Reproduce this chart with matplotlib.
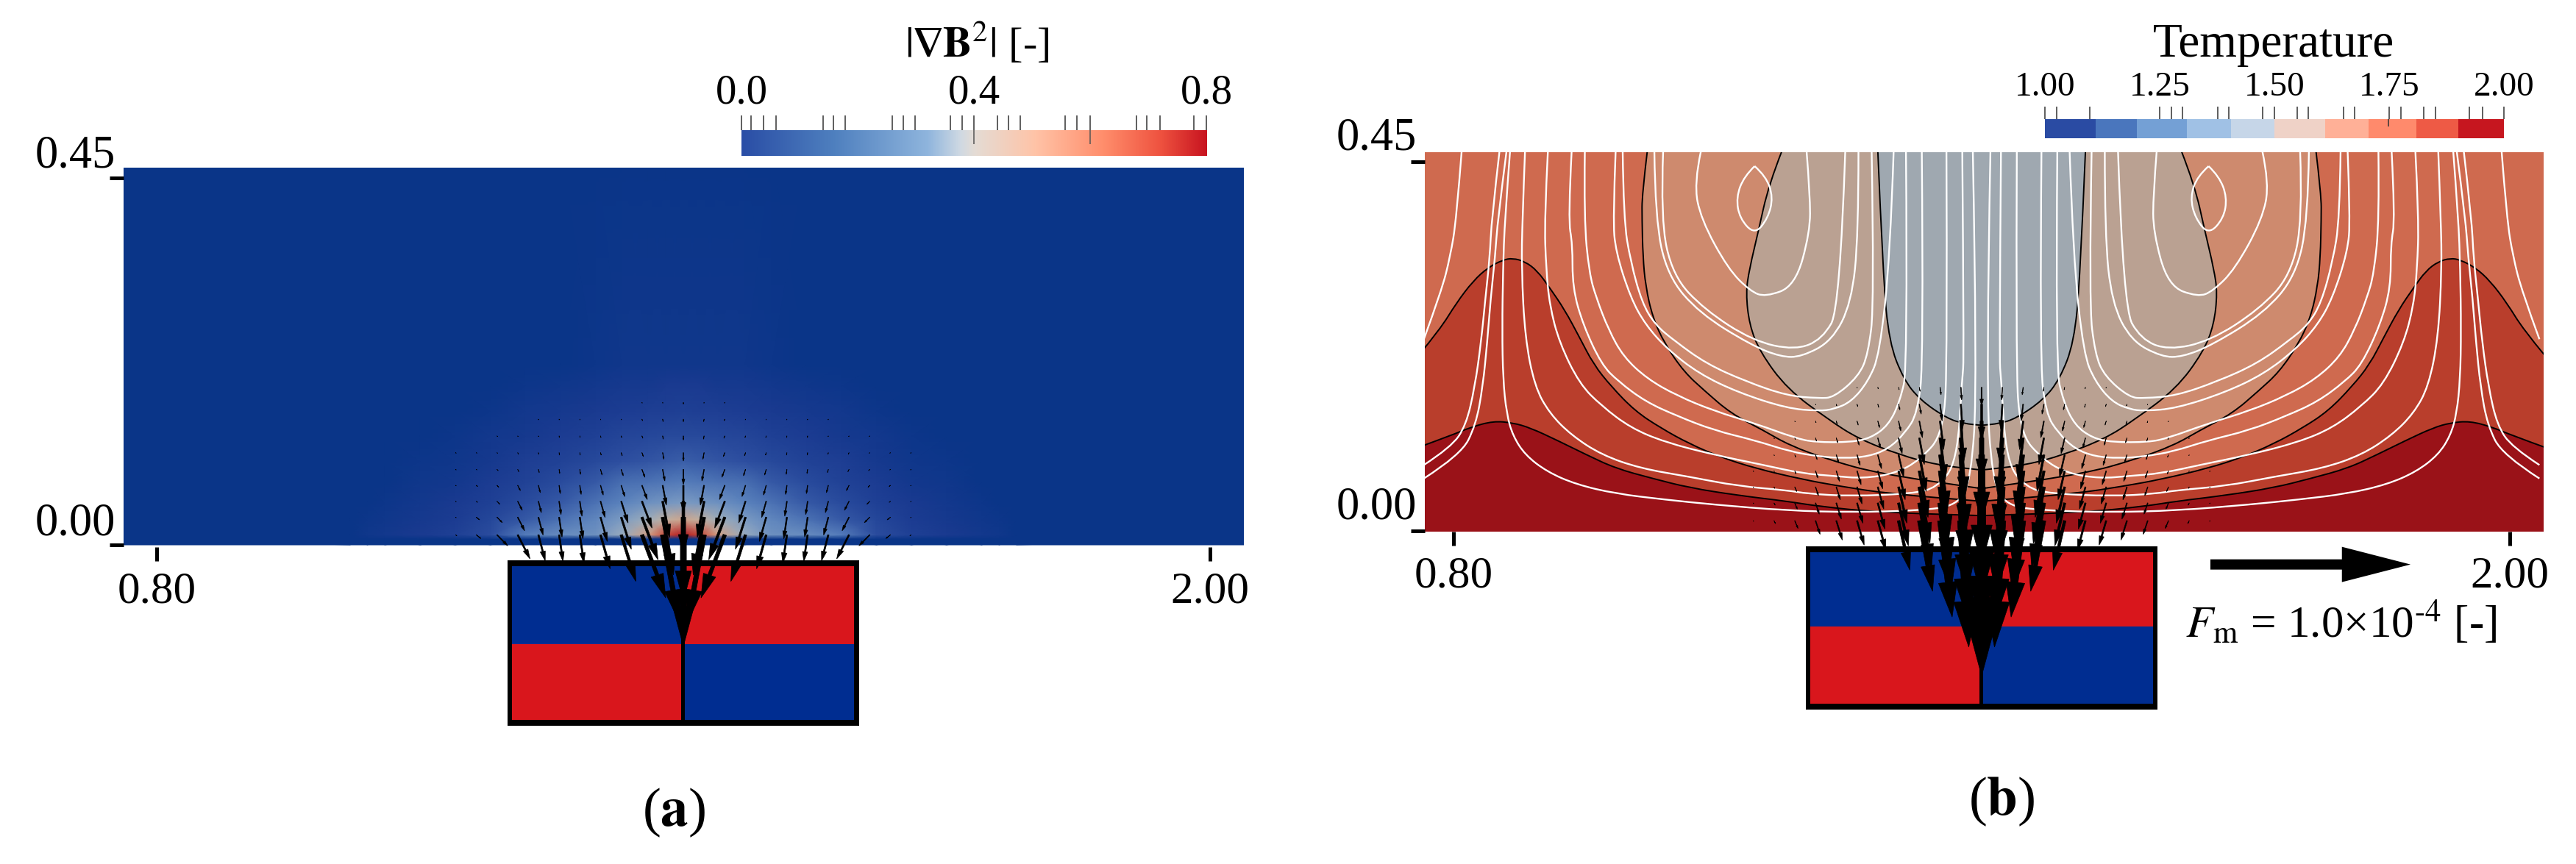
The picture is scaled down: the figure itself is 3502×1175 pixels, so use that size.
import matplotlib

matplotlib.use("Agg")
import matplotlib.pyplot as plt
import numpy as np
from matplotlib.colors import LinearSegmentedColormap
from matplotlib.patches import PathPatch, Rectangle
from matplotlib.path import Path
from matplotlib.transforms import ScaledTranslation

W, H, DPI = 3502, 1175, 100
CENTER = 1.40

# panel (a): |grad B^2|, half domain (dx from centre)
FIELD_DX = [0, 0.02, 0.04, 0.07, 0.10, 0.14, 0.18, 0.22, 0.26, 0.30, 0.34, 0.36, 0.38, 0.66]
FIELD_Y = [0, 0.007, 0.012, 0.03, 0.05, 0.075, 0.10, 0.13, 0.16, 0.19, 0.215, 0.47]
FIELD_VALUES = [
    [0, 0, 0, 0, 0, 0, 0, 0, 0, 0, 0, 0, 0, 0],
    [0, 0, 0, 0, 0, 0, 0, 0, 0, 0, 0, 0, 0, 0],
    [.80, .70, .52, .35, .28, .27, .24, .14, .08, .05, .03, .02, 0, 0],
    [.50, .45, .36, .30, .26, .22, .17, .11, .06, .04, .02, .01, 0, 0],
    [.30, .29, .28, .25, .22, .17, .13, .08, .05, .03, .01, 0, 0, 0],
    [.24, .23, .22, .21, .17, .13, .09, .06, .03, .02, 0, 0, 0, 0],
    [.18, .17, .16, .15, .12, .09, .07, .04, .02, .01, 0, 0, 0, 0],
    [.12, .12, .11, .10, .08, .06, .04, .03, .01, 0, 0, 0, 0, 0],
    [.08, .07, .07, .06, .05, .04, .03, .01, 0, 0, 0, 0, 0, 0],
    [.05, .05, .04, .04, .03, .02, .01, 0, 0, 0, 0, 0, 0, 0],
    [.02, .02, .02, .02, .01, 0, 0, 0, 0, 0, 0, 0, 0, 0],
    [0, 0, 0, 0, 0, 0, 0, 0, 0, 0, 0, 0, 0, 0],
]
FIELD_STOPS = [0, .05, .15, .25, .32, .42, .55, .70, .80]
FIELD_COLORS = ["#0a3588", "#1a3a90", "#2d4fa0", "#5a82bd", "#8ba6c5",
                "#b9b6ab", "#d99a7a", "#c84a3a", "#b01c22"]

# arrow glyphs, both panels: tail rows, columns from centre, lengths x 1000
ARROW_Y = [.012, .033, .052, .071, .090, .110, .130, .150, .170]
ARROW_DX = [0, .0236, .0472, .0708, .0944, .118, .1416, .1652, .1888, .2124, .236, .2596]
ARROW_TILT_A = [0, .18, .36, .30, .27, .14, .14, .25, .49, .94, 1.2, 1.2]
ARROW_TILT_B = [0, .06, .12, .18, .22, .26, .28, .30, .32, .40, .50, .60]
ARROW_LEN_A = [
    [133, 105, 80, 58, 42, 34, 32, 32, 32, 18, 7, 2],
    [100, 70, 54, 40, 30, 26, 24, 22, 18, 9, 5, 1],
    [62, 44, 34, 27, 20, 18, 16, 14, 12, 5, 2, 1],
    [32, 24, 18, 14, 12, 11, 10, 9, 7, 3, 2, 1],
    [18, 14, 10, 8, 7, 6, 5, 4, 3, 2, 1, 1],
    [10, 8, 5, 4, 3, 3, 3, 2, 2, 1, 1, 1],
    [5, 4, 3, 2, 2, 2, 2, 1, 1, 1, 0, 0],
    [3, 3, 2, 1, 1, 1, 1, 1, 0, 0, 0, 0],
    [2, 1, 1, 0, 0, 0, 0, 0, 0, 0, 0, 0],
]
ARROW_LEN_B = [
    [184, 150, 115, 85, 60, 36, 30, 24, 17, 10, 4, 1],
    [175, 140, 105, 78, 52, 32, 25, 20, 14, 8, 3, 1],
    [165, 125, 95, 68, 44, 27, 21, 16, 11, 6, 2, 1],
    [150, 110, 82, 56, 35, 22, 17, 13, 9, 4, 1, 1],
    [130, 92, 68, 44, 27, 17, 13, 10, 6, 3, 1, 0],
    [100, 72, 50, 32, 19, 12, 9, 6, 4, 2, 1, 0],
    [70, 50, 34, 20, 12, 8, 5, 4, 2, 1, 0, 0],
    [42, 30, 20, 12, 7, 4, 3, 2, 1, 0, 0, 0],
    [22, 15, 9, 5, 3, 2, 1, 0, 0, 0, 0, 0],
]

# panel (b): left half of the temperature band edges, (dx, y)
BAND_A = [(-.64, .099), (-.603, .113), (-.580, .123), (-.555, .130), (-.533, .128), (-.513, .122),
          (-.482, .107), (-.449, .090), (-.416, .074), (-.374, .062), (-.332, .051), (-.277, .042),
          (-.221, .035), (-.185, .029), (-.118, .022), (0, .018)]
BAND_B = [(-.64, .208), (-.616, .238), (-.597, .270), (-.578, .296), (-.561, .312), (-.544, .321),
          (-.533, .323), (-.519, .319), (-.505, .308), (-.491, .288), (-.474, .262), (-.457, .229),
          (-.441, .197), (-.421, .171), (-.394, .142), (-.365, .122), (-.332, .103), (-.296, .087),
          (-.257, .074), (-.204, .061), (-.162, .053), (-.106, .044), (0, .035)]
BAND_C = [(-.380, .45), (-.386, .398), (-.386, .369), (-.385, .325), (-.382, .290), (-.374, .253),
          (-.360, .221), (-.338, .188), (-.315, .166), (-.285, .139), (-.248, .119), (-.218, .101),
          (-.173, .084), (-.118, .068), (0, .050)]
BAND_D = [(-.227, .45), (-.242, .410), (-.254, .354), (-.264, .310), (-.268, .282), (-.264, .244),
          (-.252, .212), (-.221, .168), (-.173, .131), (-.140, .109), (-.093, .090), (-.051, .078), (0, .072)]
BAND_E = [(-.118, .45), (-.112, .30), (-.105, .223), (-.089, .180), (-.070, .155), (-.039, .133),
          (-.020, .127), (0, .125)]
BANDS = [BAND_A, BAND_B, BAND_C, BAND_D, BAND_E]
BAND_COLORS = ["#b93e2c", "#cf6a4f", "#ce8a6e", "#baa192", "#9fa8b0"]
BAND_BASE = "#9a1218"

# white streamlines, left half
STREAM_1 = [(-.591, .45), (-.597, .369), (-.604, .325), (-.614, .284), (-.634, .227)]
STREAM_2 = [(-.548, .45), (-.557, .369), (-.559, .325), (-.564, .276), (-.569, .223), (-.576, .171),
            (-.586, .125), (-.603, .099), (-.634, .078)]
STREAM_3 = [(-.540, .45), (-.550, .369), (-.553, .325), (-.558, .276), (-.562, .223), (-.567, .171),
            (-.575, .125), (-.592, .090), (-.634, .062)]
STREAM_4 = [(-.536, .45), (-.542, .369), (-.544, .310), (-.545, .238), (-.544, .180), (-.540, .139),
            (-.533, .113), (-.519, .090), (-.494, .070), (-.461, .055), (-.416, .044), (-.360, .037),
            (-.304, .031), (-.221, .024), (-.148, .022), (-.070, .024), (-.028, .030), (-.012, .059),
            (-.005, .177), (-.010, .45)]
STREAM_5 = [(-.519, .45), (-.522, .369), (-.523, .310), (-.519, .229), (-.508, .171), (-.491, .139),
            (-.466, .113), (-.432, .090), (-.388, .074), (-.332, .064), (-.277, .053), (-.221, .048),
            (-.198, .044), (-.148, .041), (-.079, .044), (-.051, .051), (-.028, .081), (-.022, .183),
            (-.020, .203), (-.022, .45)]
STREAM_6 = [(-.493, .45), (-.497, .369), (-.495, .310), (-.491, .267), (-.480, .223), (-.457, .174),
            (-.432, .148), (-.399, .122), (-.360, .105), (-.304, .090), (-.248, .078), (-.204, .068),
            (-.168, .065), (-.135, .062), (-.098, .068), (-.070, .084), (-.043, .116), (-.039, .212),
            (-.040, .45)]
STREAM_7 = [(-.466, .45), (-.470, .369), (-.465, .340), (-.465, .288), (-.453, .244), (-.432, .197),
            (-.413, .177), (-.382, .153), (-.346, .136), (-.304, .119), (-.257, .107), (-.218, .094),
            (-.185, .088), (-.156, .086), (-.129, .088), (-.106, .097), (-.087, .116), (-.073, .139),
            (-.066, .203), (-.068, .45)]
STREAM_8 = [(-.451, .45), (-.452, .369), (-.446, .305), (-.438, .276), (-.424, .238), (-.407, .206),
            (-.380, .180), (-.346, .160), (-.304, .142), (-.257, .127), (-.212, .110), (-.190, .105),
            (-.148, .105), (-.126, .110), (-.106, .125), (-.093, .153), (-.084, .194), (-.086, .45)]
STREAM_9 = [(-.416, .45), (-.419, .369), (-.416, .331), (-.399, .276), (-.382, .244), (-.357, .215),
            (-.321, .186), (-.277, .164), (-.221, .145), (-.185, .142), (-.168, .144), (-.148, .153),
            (-.129, .177), (-.116, .209), (-.104, .325), (-.100, .45)]
STREAM_10 = [(-.408, .45), (-.407, .369), (-.399, .319), (-.386, .270), (-.371, .244), (-.349, .225),
             (-.313, .198), (-.268, .177), (-.221, .160), (-.185, .157), (-.168, .158), (-.140, .183),
             (-.129, .209), (-.122, .27), (-.125, .45)]
STREAM_11 = [(-.372, .45), (-.371, .369), (-.357, .302), (-.321, .258), (-.262, .220), (-.228, .206),
             (-.205, .206), (-.170, .225), (-.148, .27), (-.140, .35), (-.14, .45)]
STREAM_12 = [(-.362, .45), (-.365, .369), (-.351, .302), (-.315, .262), (-.260, .225), (-.212, .214),
             (-.181, .227), (-.161, .264), (-.155, .45)]
STREAM_13 = [(-.319, .45), (-.327, .412), (-.319, .369), (-.288, .310), (-.263, .284), (-.246, .277),
             (-.212, .290), (-.195, .354), (-.195, .398), (-.199, .45)]
STREAM_14 = [(-.258, .432), (-.270, .42), (-.279, .395), (-.275, .37), (-.258, .351), (-.243, .37),
             (-.237, .395), (-.245, .42), (-.258, .432)]
STREAMS = [STREAM_1, STREAM_2, STREAM_3, STREAM_4, STREAM_5, STREAM_6, STREAM_7, STREAM_8,
           STREAM_9, STREAM_10, STREAM_11, STREAM_12, STREAM_13, STREAM_14]

# colour bars
CBAR_A_STOPS = [0, .2, .4, .47, .5, .63, .78, .9, 1]
CBAR_A_COLORS = ["#2a4ea6", "#4f80bf", "#8fb5dd", "#cfd9e3", "#e4dcd5", "#ffc4a8", "#ff8d6b", "#ef5340", "#c81420"]
CBAR_A_MAJOR = [0.0, 0.4, 0.8]
CBAR_A_MINOR = [.017, .038, .059, .14, .158, .179, .26, .278, .299, .36, .38, .44, .459, .48,
                .557, .577, .6, .68, .698, .72, .779]
CBAR_B_EDGES = [1, 1.11, 1.20, 1.31, 1.405, 1.5, 1.61, 1.705, 1.81, 1.90, 2.0]
CBAR_B_COLORS = ["#2a4ba3", "#4a76bd", "#74a0d5", "#a0c1e5", "#c6d6e8",
                 "#efd2c7", "#ffb097", "#ff8a6c", "#ee5a45", "#c6161f"]
CBAR_B_MAJOR = [1.0, 1.25, 1.5, 1.75, 2.0]
CBAR_B_MINOR = [1.025, 1.098, 1.275, 1.3, 1.376, 1.4, 1.474, 1.549, 1.574, 1.65, 1.675,
                1.776, 1.825, 1.851, 1.925, 1.953]

MAGNET_BLUE = "#002d91"
MAGNET_RED = "#d9161c"


def px_axes(fig, left, top, right, bottom):
    return fig.add_axes([left / W, 1 - bottom / H, (right - left) / W, (bottom - top) / H])


def px_text(fig, x, y, s, **kwargs):
    return fig.text(x / W, 1 - y / H, s, va="baseline", ha="center", **kwargs)


def mirrored(points, stretch):
    pts = np.array(points)
    x = np.r_[CENTER + pts[:, 0], CENTER - pts[::-1, 0]]
    y = np.r_[pts[:, 1], pts[::-1, 1]] * stretch
    return x, y


def smooth_path(x, y, closed_top=False):
    # quadratic segments through the read points, so the curves do not look polygonal
    pts = np.column_stack([x, y])
    verts = [pts[0]]
    codes = [Path.MOVETO]
    for i in range(1, len(pts) - 1):
        end = pts[i + 1] if i == len(pts) - 2 else (pts[i] + pts[i + 1]) / 2
        verts += [pts[i], end]
        codes += [Path.CURVE3, Path.CURVE3]
    if closed_top:
        verts += [(x[-1], 1), (x[0], 1), pts[0]]
        codes += [Path.LINETO, Path.LINETO, Path.CLOSEPOLY]
    return Path(verts, codes)


def style_field_axes(fig, ax, up):
    for spine in ax.spines.values():
        spine.set_visible(False)
    ax.set_xticks([0.8, 2.0], ["0.80", "2.00"], fontsize=44)
    ax.set_yticks([0.0, 0.45], ["0.00", "0.45"], fontsize=45)
    ax.tick_params(axis="both", length=13.7, width=3.6)
    ax.tick_params(axis="x", pad=10)
    ax.tick_params(axis="y", pad=-6)
    shift = ScaledTranslation(0, up / DPI, fig.dpi_scale_trans)
    for label in ax.get_yticklabels():
        label.set_va("bottom")
        label.set_transform(label.get_transform() + shift)


def draw_magnet(ax, top, mid, bottom):
    ax.add_patch(Rectangle((1.2, bottom), 0.4, top - bottom, fc="black", ec="none", clip_on=False, zorder=5))
    quarters = [(1.205, mid, 0.1925, top - mid - 0.007, MAGNET_BLUE),
                (1.402, mid, 0.1925, top - mid - 0.007, MAGNET_RED),
                (1.205, bottom + 0.007, 0.1925, mid - bottom - 0.007, MAGNET_RED),
                (1.402, bottom + 0.007, 0.1925, mid - bottom - 0.007, MAGNET_BLUE)]
    for x0, y0, w, h, color in quarters:
        ax.add_patch(Rectangle((x0, y0), w, h, fc=color, ec="none", clip_on=False, zorder=6))


def draw_arrow(ax, x, y, dx, dy):
    length = np.hypot(dx, dy)
    ax.arrow(x, y, dx, dy, width=0.05 * length, head_width=0.18 * length, head_length=0.36 * length,
             length_includes_head=True, fc="black", ec="black", lw=0.5, clip_on=False, zorder=8)


def draw_arrows(ax, lengths, tilts, stretch):
    for y, row in zip(ARROW_Y, lengths):
        for col, (offset, value, tilt) in enumerate(zip(ARROW_DX, row, tilts)):
            if value == 0:
                continue
            length = value / 1000
            norm = np.hypot(tilt, 1)
            dx, dy = length * tilt / norm, -length / norm
            draw_arrow(ax, CENTER - offset, y * stretch, dx, dy * stretch)
            if col > 0:
                draw_arrow(ax, CENTER + offset, y * stretch, -dx, dy * stretch)


def main():
    plt.rcParams["font.family"] = ["Liberation Serif", "DejaVu Serif"]
    plt.rcParams["mathtext.fontset"] = "stix"
    fig = plt.figure(figsize=(W / DPI, H / DPI), dpi=DPI)

    # panel (a)
    stretch_a = 1140 / 1109
    ax = px_axes(fig, 168, 228, 1691, 744)
    ax.set_xlim(0.7621, 2.0387)
    ax.set_ylim(-0.0027, 0.4626)
    dx = np.array(FIELD_DX)
    values = np.array(FIELD_VALUES)
    grid_x = CENTER + np.r_[-dx[:0:-1], dx]
    grid_z = np.hstack([values[:, :0:-1], values])
    cmap = LinearSegmentedColormap.from_list(
        "field", [(s / 0.8, c) for s, c in zip(FIELD_STOPS, FIELD_COLORS)])
    ax.pcolormesh(grid_x, np.array(FIELD_Y) * stretch_a, grid_z, cmap=cmap, vmin=0, vmax=0.8,
                  shading="gouraud", zorder=1)
    style_field_axes(fig, ax, 0)
    draw_magnet(ax, -0.019, -0.122, -0.222)
    draw_arrows(ax, ARROW_LEN_A, ARROW_TILT_A, stretch_a)

    cax = px_axes(fig, 1008, 177, 1640, 212)
    bar_cmap = LinearSegmentedColormap.from_list("bar", list(zip(CBAR_A_STOPS, CBAR_A_COLORS)))
    cax.imshow(np.linspace(0, 0.8, 256)[None, :], extent=(0, 0.8, 0, 1), aspect="auto", cmap=bar_cmap)
    cax.set_yticks([])
    for spine in cax.spines.values():
        spine.set_visible(False)
    cax.xaxis.tick_top()
    cax.set_xticks(CBAR_A_MAJOR, ["0.0", "0.4", "0.8"], fontsize=41)
    cax.set_xticks(CBAR_A_MINOR, minor=True)
    cax.tick_params(axis="x", which="both", length=14.4, width=1.1, pad=3, color="#333333")
    cax.vlines([0.40, 0.60], 0.45, 1, color="#555555", lw=1.1)
    px_text(fig, 1328, 78, r"$|\boldsymbol{\nabla}\mathbf{B}^{2}|$ [-]", fontsize=42)
    px_text(fig, 916, 1123, r"($\mathbf{a}$)", fontsize=54)

    # panel (b)
    stretch_b = 1147 / 1115
    bx = px_axes(fig, 1937, 207, 3458, 723)
    bx.set_xlim(0.7671, 2.0388)
    bx.set_ylim(-0.001, 0.4614)
    bx.set_facecolor(BAND_BASE)
    for band, color in zip(BANDS, BAND_COLORS):
        x, y = mirrored(band, stretch_b)
        bx.add_patch(PathPatch(smooth_path(x, y, closed_top=True), fc=color, ec="none", zorder=1))
    for band in BANDS:
        x, y = mirrored(band, stretch_b)
        bx.add_patch(PathPatch(smooth_path(x, y), fc="none", ec="black", lw=1.4, zorder=2))
    for stream in STREAMS:
        pts = np.array(stream)
        for sign in (1, -1):
            path = smooth_path(CENTER + sign * pts[:, 0], pts[:, 1] * stretch_b)
            bx.add_patch(PathPatch(path, fc="none", ec="white", lw=1.7, zorder=3))
    style_field_axes(fig, bx, 2)
    draw_magnet(bx, -0.019, -0.117, -0.218)
    draw_arrows(bx, ARROW_LEN_B, ARROW_TILT_B, stretch_b)
    bx.arrow(1.66, -0.041, 0.2275, 0, width=0.0125, head_width=0.043, head_length=0.078,
             length_includes_head=True, fc="black", ec="none", clip_on=False, zorder=8)

    dax = px_axes(fig, 2780, 162, 3404, 188)
    dax.pcolormesh(CBAR_B_EDGES, [0, 1], np.array(CBAR_B_EDGES[:-1])[None, :],
                   cmap=matplotlib.colors.ListedColormap(CBAR_B_COLORS),
                   norm=matplotlib.colors.BoundaryNorm(CBAR_B_EDGES, 10))
    dax.set_yticks([])
    for spine in dax.spines.values():
        spine.set_visible(False)
    dax.xaxis.tick_top()
    dax.set_xticks(CBAR_B_MAJOR, ["1.00", "1.25", "1.50", "1.75", "2.00"], fontsize=34)
    dax.set_xticks(CBAR_B_MINOR, minor=True)
    dax.tick_params(axis="x", which="both", length=12, width=1.1, pad=4, color="#333333")
    dax.vlines([1.748], 0.6, 1, color="#333333", lw=1.1)
    px_text(fig, 3091, 77, "Temperature", fontsize=47)
    px_text(fig, 3183, 867, r"$\mathit{F}_{\mathrm{m}}$ = 1.0×10$^{\text{-}4}$ [-]", fontsize=44)
    px_text(fig, 2721, 1108, r"($\mathbf{b}$)", fontsize=54)

    fig.savefig("out.png", dpi=DPI)


if __name__ == "__main__":
    main()
